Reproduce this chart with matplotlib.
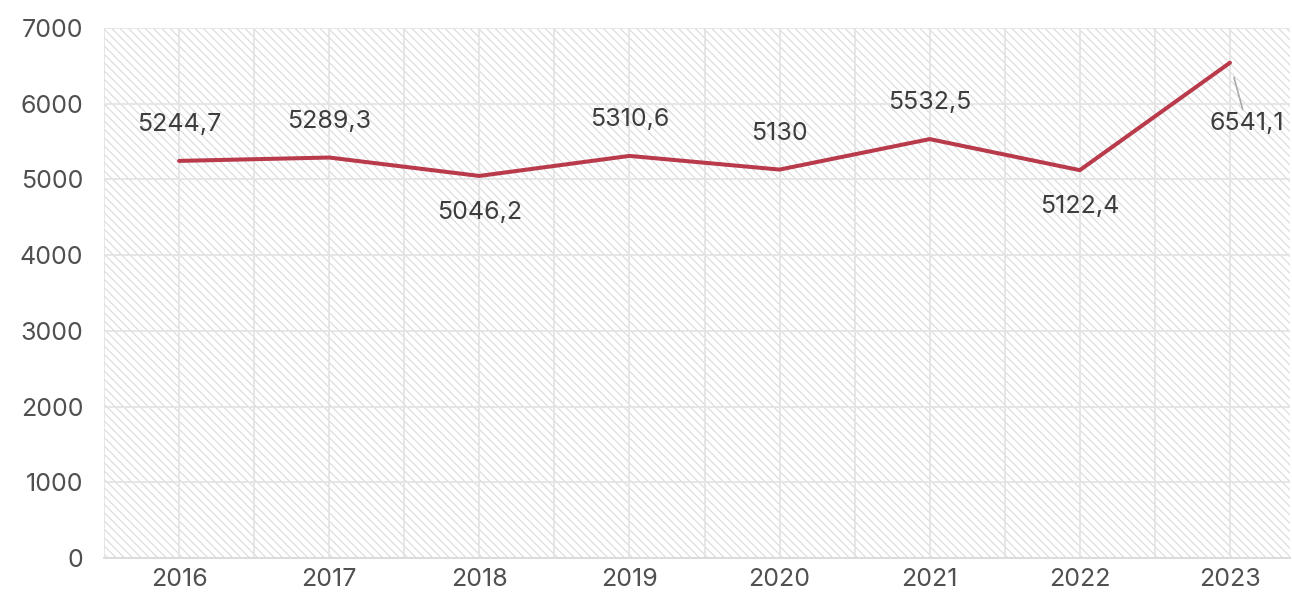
import matplotlib.pyplot as plt
from matplotlib.ticker import MultipleLocator

# dane
years = ['2016', '2017', '2018', '2019', '2020', '2021', '2022', '2023']
values = [5244.7, 5289.3, 5046.2, 5310.6, 5130, 5532.5, 5122.4, 6541.1]
labels = ['5244,7', '5289,3', '5046,2', '5310,6', '5130', '5532,5', '5122,4', '6541,1']
yticks = [0, 1000, 2000, 3000, 4000, 5000, 6000, 7000]

plt.rcParams['font.family'] = ['Inter', 'DejaVu Sans']
plt.rcParams['hatch.linewidth'] = 0.8

fig = plt.figure(figsize=(12.92, 5.94), dpi=100)
ax = fig.add_axes([104 / 1292, 36 / 594, 1186 / 1292, 530 / 594])

# tlo w ukosne paski
ax.patch.set_facecolor('white')
ax.patch.set_edgecolor('#dadada')
ax.patch.set_hatch('\\\\\\\\')

x = list(range(len(years)))
ax.plot(x, values, color='#b83a4b', linewidth=2.9, solid_capstyle='round', zorder=3)

ax.set_xlim(-0.5, 7.4)
ax.set_ylim(0, 7000)
ax.set_xticks(x)
ax.set_xticklabels(years)
ax.set_yticks(yticks)
ax.xaxis.set_minor_locator(MultipleLocator(0.5))
ax.tick_params(axis='both', which='both', length=0, labelsize=18, colors='#505050')
ax.tick_params(axis='y', pad=15)
ax.tick_params(axis='x', pad=7)

ax.grid(True, which='both', color='#e4e4e4', linewidth=1.3)
ax.set_axisbelow(True)
for side in ['top', 'right', 'left']:
    ax.spines[side].set_visible(False)
ax.spines['bottom'].set_color('#d9d9d9')
ax.spines['bottom'].set_linewidth(1.3)

# etykiety wartosci
below = {2, 6}
for i, (v, lab) in enumerate(zip(values, labels)):
    if i == 7:
        ax.annotate(lab, xy=(i, v), xytext=(12, -44), textcoords='offset points',
                    ha='center', va='center', fontsize=18, color='#3d3d3d',
                    arrowprops=dict(arrowstyle='-', color='#aaaaaa', lw=1.2,
                                    shrinkA=0, shrinkB=11))
    elif i in below:
        ax.annotate(lab, xy=(i, v), xytext=(0, -26), textcoords='offset points',
                    ha='center', va='center', fontsize=18, color='#3d3d3d')
    else:
        ax.annotate(lab, xy=(i, v), xytext=(0, 26), textcoords='offset points',
                    ha='center', va='center', fontsize=18, color='#3d3d3d')

fig.savefig('out.png', dpi=100)
